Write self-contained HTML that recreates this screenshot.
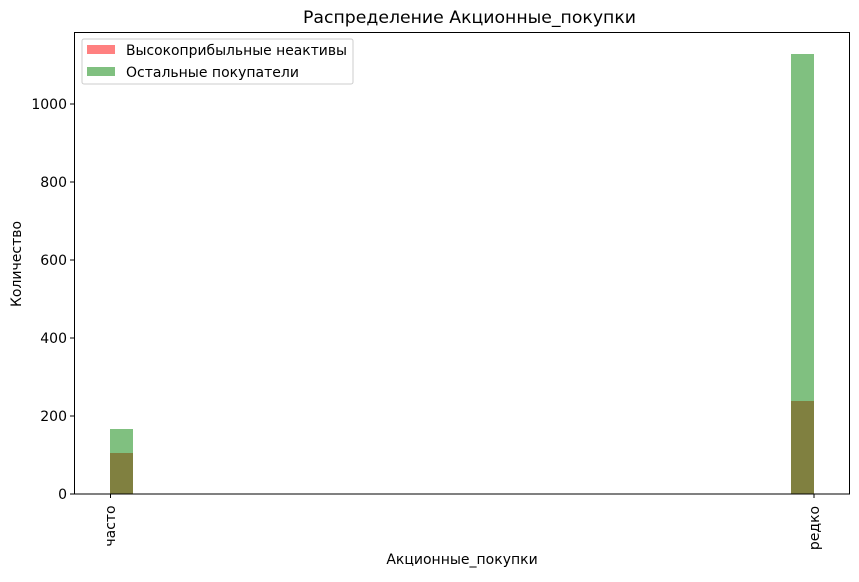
<!DOCTYPE html>
<html><head><meta charset="utf-8"><style>body{margin:0;background:#fff}</style></head><body>
<svg width="859" height="577" xmlns="http://www.w3.org/2000/svg" font-family="'DejaVu Sans',sans-serif">
<rect width="859" height="577" fill="#fff"/>
<text x="303" y="23" font-size="16.5" textLength="333" lengthAdjust="spacingAndGlyphs">Распределение Акционные_покупки</text>
<rect x="110" y="429" width="23" height="65" fill="#80c080"/>
<rect x="110" y="453" width="23" height="41" fill="#808040"/>
<rect x="791" y="54" width="23" height="440" fill="#80c080"/>
<rect x="791" y="401" width="23" height="93" fill="#808040"/>
<rect x="74.5" y="32.5" width="775" height="461.5" fill="none" stroke="#000" stroke-width="1"/>
<g stroke="#000">
<line x1="70" y1="494" x2="74" y2="494"/><line x1="70" y1="416" x2="74" y2="416"/><line x1="70" y1="338" x2="74" y2="338"/>
<line x1="70" y1="260" x2="74" y2="260"/><line x1="70" y1="182" x2="74" y2="182"/><line x1="70" y1="104" x2="74" y2="104"/>
<line x1="110.5" y1="494" x2="110.5" y2="498"/><line x1="814" y1="494" x2="814" y2="498"/>
</g>
<g font-size="14" text-anchor="end">
<text x="67" y="499">0</text><text x="67" y="421">200</text><text x="67" y="343">400</text>
<text x="67" y="265">600</text><text x="67" y="187">800</text><text x="67" y="109">1000</text>
</g>
<text transform="translate(115,526) rotate(-90)" font-size="14" text-anchor="middle">часто</text>
<text transform="translate(819,528) rotate(-90)" font-size="14" text-anchor="middle">редко</text>
<text x="462" y="564" font-size="14" text-anchor="middle">Акционные_покупки</text>
<text transform="translate(21,264) rotate(-90)" font-size="14" text-anchor="middle">Количество</text>
<rect x="82" y="39" width="271" height="45" rx="2" fill="#fff" stroke="#ccc"/>
<rect x="87" y="45" width="28" height="9" fill="#ff8080"/>
<rect x="87" y="67" width="28" height="9" fill="#80c080"/>
<text x="126" y="55" font-size="14" textLength="221" lengthAdjust="spacingAndGlyphs">Высокоприбыльные неактивы</text>
<text x="126" y="77" font-size="14">Остальные покупатели</text>
</svg>
</body></html>
